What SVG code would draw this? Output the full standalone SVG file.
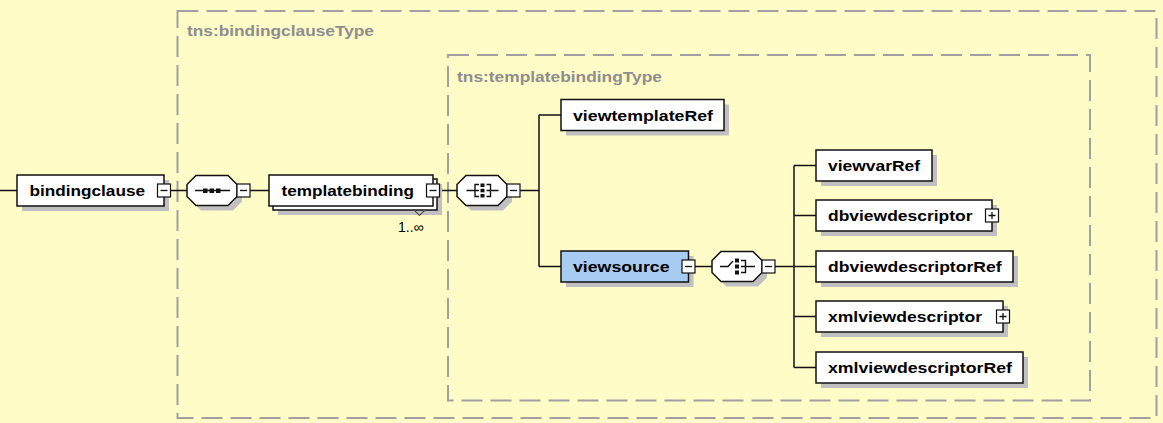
<svg xmlns="http://www.w3.org/2000/svg" width="1163" height="423" viewBox="0 0 1163 423">
  <style>
    .bg { fill: #FFFCC8; }
    .frame { fill: none; stroke: #A0A0A0; stroke-width: 2; stroke-dasharray: 21 8; }
    .ftitle { font-family: "Liberation Sans", Arial, sans-serif; font-weight: bold; font-size: 15px; fill: #8E8E8E; }
    .shadow { fill: #C0C0C0; stroke: none; }
    .box { fill: #FFFFFF; stroke: #111111; stroke-width: 1.5; }
    .sel { fill: #A8CBF2; stroke: #111111; stroke-width: 1.5; }
    .lbl { font-family: "Liberation Sans", Arial, sans-serif; font-weight: bold; font-size: 15px; fill: #000000; }
    .card { font-family: "Liberation Sans", Arial, sans-serif; font-size: 14px; fill: #000000; }
    .exp { fill: #FFFFFF; stroke: #111111; stroke-width: 1.2; }
    .sign { fill: none; stroke: #111111; stroke-width: 1.3; }
    .wire { fill: none; stroke: #111111; stroke-width: 1.5; }
    .icon { fill: none; stroke: #111111; stroke-width: 1.4; }
    .dot { fill: #111111; }
  </style>

  <rect class="bg" x="0" y="0" width="1163" height="423"/>

  <!-- complex type frames -->
  <g id="bindingclauseType">
    <rect class="frame" x="177.5" y="11" width="979" height="407"/>
    <text class="ftitle" x="187" y="36" textLength="187" lengthAdjust="spacingAndGlyphs">tns:bindingclauseType</text>
  </g>
  <g id="templatebindingType">
    <rect class="frame" x="448" y="55" width="642" height="345.5"/>
    <text class="ftitle" x="457" y="82" textLength="205" lengthAdjust="spacingAndGlyphs">tns:templatebindingType</text>
  </g>

  <!-- connectors -->
  <g id="connectors">
    <path class="wire" d="M0,190.5 H17"/>
    <path class="wire" d="M170.5,190.5 H187"/>
    <path class="wire" d="M250,190.5 H269"/>
    <path class="wire" d="M439.5,190.5 H457"/>
    <path class="wire" d="M520,190.5 H539 M539,115 V266.5 M539,115 H561 M539,266.5 H561"/>
    <path class="wire" d="M694.5,266.5 H712"/>
    <path class="wire" d="M775,266.5 H794 M794,165.5 V367.5 M794,165.5 H816 M794,215.5 H816 M794,266.5 H816 M794,316.5 H816 M794,367.5 H816"/>
  </g>

  <!-- root element -->
  <g id="bindingclause">
    <rect class="shadow" x="22" y="180" width="147" height="31"/>
    <rect class="box" x="17" y="175" width="147" height="31"/>
    <text class="lbl" x="29.5" y="196" textLength="115.5" lengthAdjust="spacingAndGlyphs">bindingclause</text>
    <rect class="exp" x="157.5" y="184" width="13" height="13"/>
    <path class="sign" d="M160.5,190.5 H167.5"/>
  </g>

  <!-- sequence compositor -->
  <g id="sequence">
    <polygon class="shadow" points="201,180.5 233,180.5 242,189.5 242,201.5 233,210.5 201,210.5 192,201.5 192,189.5"/>
    <polygon class="box" points="196,175.5 228,175.5 237,184.5 237,196.5 228,205.5 196,205.5 187,196.5 187,184.5"/>
    <path class="icon" d="M195,190.5 H230"/>
    <rect class="dot" x="203" y="188.5" width="4.5" height="4.5"/>
    <rect class="dot" x="209.5" y="188.5" width="4.5" height="4.5"/>
    <rect class="dot" x="216" y="188.5" width="4.5" height="4.5"/>
    <rect class="exp" x="237" y="184" width="13" height="13"/>
    <path class="sign" d="M240,190.5 H247"/>
  </g>

  <!-- repeated element -->
  <g id="templatebinding">
    <rect class="shadow" x="278" y="184" width="164" height="31"/>
    <rect class="box" x="273" y="179" width="164" height="31"/>
    <polyline class="icon" points="414,210 419.5,215.5 425,210" style="stroke:#555555;stroke-width:1.2"/>
    <rect class="box" x="269" y="175" width="164" height="31"/>
    <text class="lbl" x="281.5" y="196" textLength="132.5" lengthAdjust="spacingAndGlyphs">templatebinding</text>
    <rect class="exp" x="426.5" y="184" width="13" height="13"/>
    <path class="sign" d="M429.5,190.5 H436.5"/>
    <text class="card" x="398" y="232">1..∞</text>
  </g>

  <!-- all compositor -->
  <g id="all">
    <polygon class="shadow" points="471,180.5 503,180.5 512,189.5 512,201.5 503,210.5 471,210.5 462,201.5 462,189.5"/>
    <polygon class="box" points="466,175.5 498,175.5 507,184.5 507,196.5 498,205.5 466,205.5 457,196.5 457,184.5"/>
    <path class="icon" d="M466.5,190.5 H475 M479,184.5 H475 V196.5 H479 M475,190.5 H479"/>
    <rect class="dot" x="480.5" y="183.5" width="4" height="3.5"/>
    <rect class="dot" x="480.5" y="188.8" width="4" height="3.5"/>
    <rect class="dot" x="480.5" y="194" width="4" height="3.5"/>
    <path class="icon" d="M486.5,184.5 H490.5 V196.5 H486.5 M486.5,190.5 H498.5"/>
    <rect class="exp" x="507" y="184" width="13" height="13"/>
    <path class="sign" d="M510,190.5 H517"/>
  </g>

  <g id="viewtemplateRef">
    <rect class="shadow" x="566" y="104.5" width="163" height="31"/>
    <rect class="box" x="561" y="99.5" width="163" height="31"/>
    <text class="lbl" x="573" y="120.5" textLength="140" lengthAdjust="spacingAndGlyphs">viewtemplateRef</text>
  </g>

  <g id="viewsource">
    <rect class="shadow" x="566" y="256" width="127.5" height="31"/>
    <rect class="sel" x="561" y="251" width="127.5" height="31"/>
    <text class="lbl" x="573" y="272" textLength="96.5" lengthAdjust="spacingAndGlyphs">viewsource</text>
    <rect class="exp" x="682" y="260" width="13" height="13"/>
    <path class="sign" d="M685,266.5 H692"/>
  </g>

  <!-- choice compositor -->
  <g id="choice">
    <polygon class="shadow" points="726,256.5 758,256.5 767,265.5 767,277.5 758,286.5 726,286.5 717,277.5 717,265.5"/>
    <polygon class="box" points="721,251.5 753,251.5 762,260.5 762,272.5 753,281.5 721,281.5 712,272.5 712,260.5"/>
    <path class="icon" d="M720,266.5 H728 L733,261"/>
    <rect class="dot" x="735" y="258.5" width="4" height="4"/>
    <rect class="dot" x="735" y="264.5" width="4" height="4"/>
    <rect class="dot" x="735" y="270.5" width="4" height="4"/>
    <path class="icon" d="M741,260.5 H745.5 V272.5 H741 M741,266.5 H755"/>
    <rect class="exp" x="762" y="260" width="13" height="13"/>
    <path class="sign" d="M765,266.5 H772"/>
  </g>

  <g id="viewvarRef">
    <rect class="shadow" x="821" y="155" width="116" height="31"/>
    <rect class="box" x="816" y="150" width="116" height="31"/>
    <text class="lbl" x="828" y="171" textLength="92" lengthAdjust="spacingAndGlyphs">viewvarRef</text>
  </g>

  <g id="dbviewdescriptor">
    <rect class="shadow" x="821" y="205" width="176" height="31"/>
    <rect class="box" x="816" y="200" width="176" height="31"/>
    <text class="lbl" x="828" y="221" textLength="144.5" lengthAdjust="spacingAndGlyphs">dbviewdescriptor</text>
    <rect class="exp" x="985.5" y="209" width="13" height="13"/>
    <path class="sign" d="M988.5,215.5 H995.5 M992,212 V219"/>
  </g>

  <g id="dbviewdescriptorRef">
    <rect class="shadow" x="821" y="256" width="197" height="31"/>
    <rect class="box" x="816" y="251" width="197" height="31"/>
    <text class="lbl" x="828" y="272" textLength="173.5" lengthAdjust="spacingAndGlyphs">dbviewdescriptorRef</text>
  </g>

  <g id="xmlviewdescriptor">
    <rect class="shadow" x="821" y="306" width="187" height="31"/>
    <rect class="box" x="816" y="301" width="187" height="31"/>
    <text class="lbl" x="828" y="322" textLength="154" lengthAdjust="spacingAndGlyphs">xmlviewdescriptor</text>
    <rect class="exp" x="996.5" y="310" width="13" height="13"/>
    <path class="sign" d="M999.5,316.5 H1006.5 M1003,313 V320"/>
  </g>

  <g id="xmlviewdescriptorRef">
    <rect class="shadow" x="821" y="357" width="207" height="31"/>
    <rect class="box" x="816" y="352" width="207" height="31"/>
    <text class="lbl" x="828" y="373" textLength="184" lengthAdjust="spacingAndGlyphs">xmlviewdescriptorRef</text>
  </g>
</svg>
